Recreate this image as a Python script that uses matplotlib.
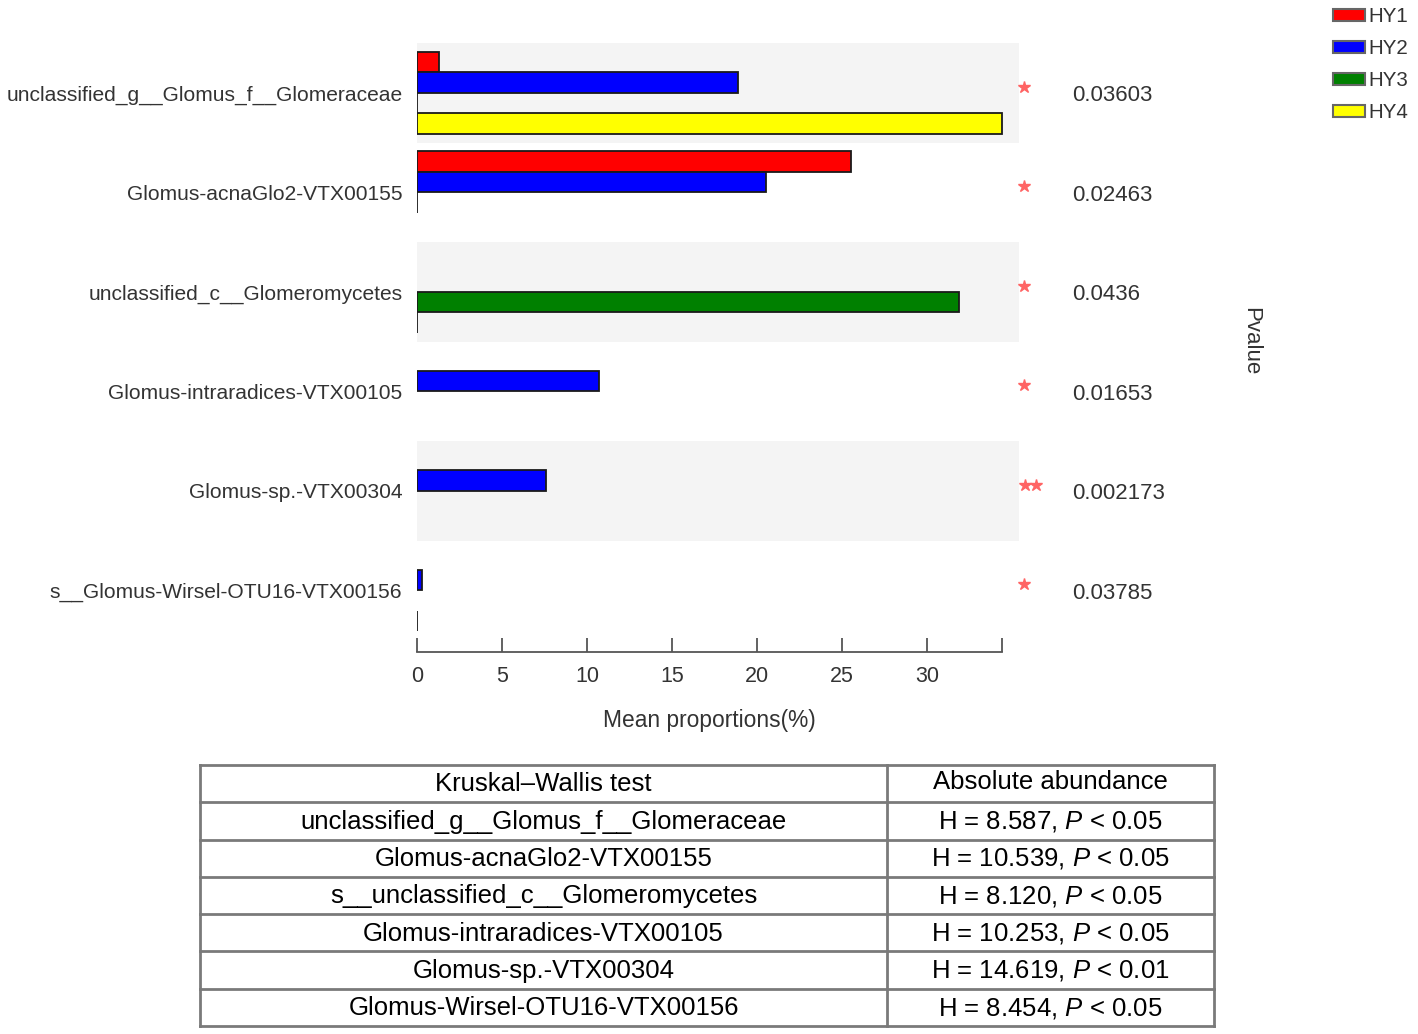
import matplotlib
matplotlib.use("Agg")
import matplotlib.pyplot as plt
from matplotlib.patches import Rectangle
import numpy as np

plt.rcParams['font.family'] = ['Liberation Sans', 'DejaVu Sans']
plt.rcParams['mathtext.fontset'] = 'custom'
plt.rcParams['mathtext.rm'] = 'Liberation Sans'
plt.rcParams['mathtext.it'] = 'Liberation Sans:italic'

# ---------------- data ----------------
categories = [
    "unclassified_g__Glomus_f__Glomeraceae",
    "Glomus-acnaGlo2-VTX00155",
    "unclassified_c__Glomeromycetes",
    "Glomus-intraradices-VTX00105",
    "Glomus-sp.-VTX00304",
    "s__Glomus-Wirsel-OTU16-VTX00156",
]
groups = ["HY1", "HY2", "HY3", "HY4"]
hy1 = [1.3, 25.5, 0.0, 0.0, 0.0, 0.0]
hy2 = [18.9, 20.5, 0.0, 10.7, 7.6, 0.3]
hy3 = [0.02, 0.02, 31.9, 0.0, 0.0, 0.0]
hy4 = [34.4, 0.0, 0.02, 0.0, 0.0, 0.02]
stars = ["*", "*", "*", "*", "**", "*"]
pvalues = ["0.03603", "0.02463", "0.0436", "0.01653", "0.002173", "0.03785"]
xticks = [0, 5, 10, 15, 20, 25, 30]

table_header = ["Kruskal\u2013Wallis test", "Absolute abundance"]
table_names = [
    "unclassified_g__Glomus_f__Glomeraceae",
    "Glomus-acnaGlo2-VTX00155",
    "s__unclassified_c__Glomeromycetes",
    "Glomus-intraradices-VTX00105",
    "Glomus-sp.-VTX00304",
    "Glomus-Wirsel-OTU16-VTX00156",
]
table_H = ["8.587", "10.539", "8.120", "10.253", "14.619", "8.454"]
table_P = ["0.05", "0.05", "0.05", "0.05", "0.01", "0.05"]

colors = ["#ff0000", "#0000ff", "#008000", "#ffff00"]

# ---------------- figure ----------------
W, H = 1418, 1034
fig = plt.figure(figsize=(W / 100, H / 100), dpi=100)

def fx(px):
    return px / W

def fy(py):
    return 1 - py / H

ax_left, ax_right, ax_top, ax_bot = 417, 1019, 43, 652
ax = fig.add_axes([fx(ax_left), fy(ax_bot), fx(ax_right - ax_left), (ax_bot - ax_top) / H])

xmax_axis = 35.4
ax.set_xlim(0, xmax_axis)
ax.set_ylim(5.62, -0.5)

n = len(categories)
ypos = np.arange(n)
bh = 0.205
offsets = [-1.5 * bh, -0.5 * bh, 0.5 * bh, 1.5 * bh]

# background bands
for i in range(n):
    if i % 2 == 0:
        ax.axhspan(i - 0.5, i + 0.5, xmin=0, xmax=1, color="#f4f4f4", zorder=0, lw=0)

series = [hy1, hy2, hy3, hy4]
for g, (vals, col, off) in enumerate(zip(series, colors, offsets)):
    vals = np.array(vals)
    mask = vals > 0
    ax.barh(ypos[mask] + off, vals[mask], height=bh, color=col,
            edgecolor="#1a1a1a", linewidth=1.3, zorder=2)

# y labels
ax.set_yticks(ypos)
ax.set_yticklabels(categories, fontsize=15.1, color="#333333")
ax.tick_params(axis="y", length=0, pad=10.5)

# x axis
for s in ["top", "right", "left"]:
    ax.spines[s].set_visible(False)
ax.spines["bottom"].set_color("#555555")
ax.spines["bottom"].set_linewidth(1.3)
ax.spines["bottom"].set_bounds(0, 34.4)
ax.set_xticks(xticks + [34.4])
ax.set_xticklabels([str(t) for t in xticks] + [""], fontsize=15.5, color="#333333")
ax.tick_params(axis="x", direction="in", length=10, width=1.3, color="#555555", pad=10)

fig.text(fx(709.5), fy(720), "Mean proportions(%)", fontsize=16.4, color="#333333",
         ha="center", va="center")

# significance stars and p-values
for i in range(n):
    if stars[i] == "**":
        xs = [35.75, 36.4]
    else:
        xs = [35.7]
    ax.plot(xs, [i - 0.06] * len(xs), linestyle="none", marker="*", markersize=9,
            color="#ff6464", clip_on=False, zorder=3)
    ax.text(38.5, i + 0.03, pvalues[i], fontsize=16, color="#333333", ha="left", va="center",
            clip_on=False)

fig.text(fx(1251), fy(341), "Pvalue", fontsize=16, color="#333333", rotation=270,
         ha="center", va="center")

# legend (manual)
for k, (g, col) in enumerate(zip(groups, colors)):
    yc = 15 + 32 * k
    fig.add_artist(Rectangle((fx(1333), fy(yc + 6)), fx(32), 12 / H, facecolor=col,
                             edgecolor="#666666", linewidth=1.5, transform=fig.transFigure))
    fig.text(fx(1368), fy(yc + 2), g, fontsize=14.8, color="#333333", ha="left", va="center")

# ---------------- table ----------------
t_left, t_right, t_top, t_bot = 200, 1214, 765, 1026
tax = fig.add_axes([fx(t_left), fy(t_bot), fx(t_right - t_left), (t_bot - t_top) / H])
tax.set_xlim(t_left, t_right)
nrows = len(table_names) + 1
tax.set_ylim(nrows, 0)
tax.axis("off")
lc = "#7a7a7a"
lw = 2.0
for r in range(nrows + 1):
    tax.plot([t_left, t_right], [r, r], color=lc, lw=lw, solid_capstyle="projecting", clip_on=False)
for xv in [t_left, 887, t_right]:
    tax.plot([xv, xv], [0, nrows], color=lc, lw=lw, solid_capstyle="projecting", clip_on=False)

c1 = (t_left + 887) / 2
c2 = (887 + t_right) / 2
fs_t = 18.5
tax.text(c1, 0.52, table_header[0], fontsize=fs_t, ha="center", va="center", color="black")
tax.text(c2, 0.45, table_header[1], fontsize=fs_t, ha="center", va="center", color="black")
for r, (nm, hv, pv) in enumerate(zip(table_names, table_H, table_P), start=1):
    tax.text(c1, r + 0.52, nm, fontsize=fs_t, ha="center", va="center", color="black")
    tax.text(c2, r + 0.52, "H = " + hv + ", $P$ < " + pv, fontsize=fs_t,
             ha="center", va="center", color="black")

fig.savefig("out.png", dpi=100)
